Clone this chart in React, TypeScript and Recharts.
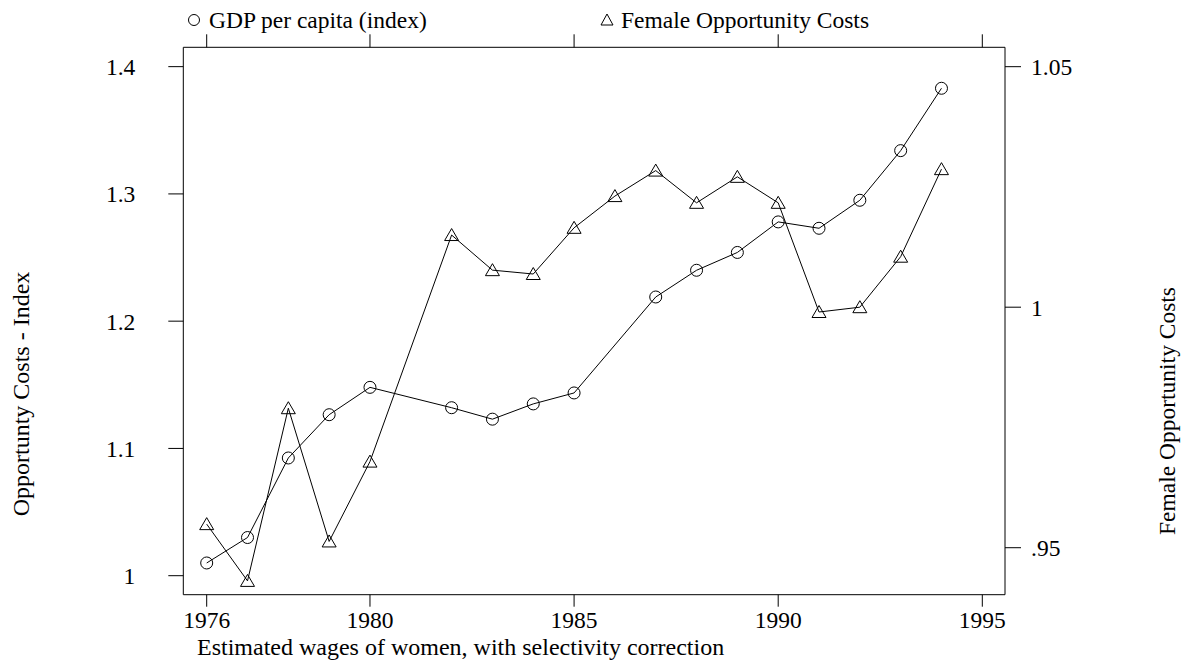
import { LineChart, Line, XAxis, YAxis } from "recharts";

const years = [1976, 1977, 1978, 1979, 1980, 1982, 1983, 1984, 1985, 1986, 1987, 1988, 1989, 1990, 1991, 1992, 1993, 1994];
// GDP per capita (index), left axis; no point for 1986
const gdpIndex = [1.01, 1.03, 1.0925, 1.1265, 1.148, 1.132, 1.123, 1.135, 1.1436, null, 1.219, 1.24, 1.254, 1.278, 1.273, 1.295, 1.334, 1.383];
// Female opportunity costs, right axis
const femaleCosts = [0.9549, 0.9431, 0.979, 0.9513, 0.9679, 1.015, 1.0077, 1.0069, 1.0165, 1.0231, 1.0284, 1.0217, 1.0271, 1.0217, 0.999, 1.0, 1.0105, 1.0287];

const yearTicks = [1976, 1980, 1985, 1990, 1995];
const leftTicks = [1, 1.1, 1.2, 1.3, 1.4];
const rightTicks = [0.95, 1, 1.05];

const data = years.map((year, i) => ({ year, gdp: gdpIndex[i], foc: femaleCosts[i] }));

const FONT = '"Liberation Serif", "Times New Roman", serif';
const tickStyle = { fill: "#000", fontSize: 23.5, fontFamily: FONT };

function CircleDot(p: any) {
  if (p.value == null || p.cx == null) return <g key={p.index} />;
  return <circle key={p.index} cx={p.cx} cy={p.cy} r={6} fill="none" stroke="#000" strokeWidth={1} />;
}

function TriangleDot(p: any) {
  if (p.value == null || p.cx == null) return <g key={p.index} />;
  const { cx, cy } = p;
  return (
    <path
      key={p.index}
      d={`M${cx},${cy - 6.5}L${cx - 7},${cy + 5.5}L${cx + 7},${cy + 5.5}Z`}
      fill="none"
      stroke="#000"
      strokeWidth={1}
    />
  );
}

export default function App() {
  return (
    <div style={{ position: "absolute", left: 0, top: 0, width: 1191, height: 660, background: "#fff", fontFamily: FONT, color: "#000" }}>
      {/* legend */}
      <div style={{ position: "absolute", left: 186, top: 7, height: 26, display: "flex", alignItems: "center", fontSize: 23.5 }}>
        <svg width={16} height={16} style={{ marginRight: 7 }}>
          <circle cx={8} cy={8} r={5.5} fill="none" stroke="#000" />
        </svg>
        GDP per capita (index)
      </div>
      <div style={{ position: "absolute", left: 599, top: 7, height: 26, display: "flex", alignItems: "center", fontSize: 23.5 }}>
        <svg width={16} height={16} style={{ marginRight: 6 }}>
          <path d="M8,2L2,13L14,13Z" fill="none" stroke="#000" />
        </svg>
        Female Opportunity Costs
      </div>

      <LineChart width={1191} height={660} data={data} margin={{ top: 27.3, right: 116, bottom: 35.3, left: 113.3 }}>
        <XAxis
          xAxisId="b"
          dataKey="year"
          type="number"
          domain={[1975.427, 1995.556]}
          ticks={yearTicks}
          allowDataOverflow
          height={30}
          tickSize={12}
          tickMargin={5}
          tick={tickStyle}
          stroke="#000"
        />
        <XAxis
          xAxisId="t"
          orientation="top"
          dataKey="year"
          type="number"
          domain={[1975.427, 1995.556]}
          ticks={yearTicks}
          allowDataOverflow
          height={20}
          tickSize={13}
          tickFormatter={() => ""}
          stroke="#000"
        />
        <YAxis
          yAxisId="l"
          orientation="left"
          type="number"
          domain={[0.98507, 1.4152]}
          ticks={leftTicks}
          allowDataOverflow
          width={70}
          tickSize={15}
          tickMargin={33}
          tick={tickStyle}
          tickFormatter={(v: number) => (v === 1 ? "1" : v.toFixed(1))}
          stroke="#000"
        />
        <YAxis
          yAxisId="r"
          orientation="right"
          type="number"
          domain={[0.94023, 1.05403]}
          ticks={rightTicks}
          allowDataOverflow
          width={70}
          tickSize={16}
          tickMargin={10}
          tick={tickStyle}
          tickFormatter={(v: number) => String(v).replace(/^0/, "")}
          stroke="#000"
        />
        <Line
          xAxisId="b"
          yAxisId="l"
          dataKey="gdp"
          stroke="#000"
          strokeWidth={1}
          connectNulls
          dot={CircleDot}
          activeDot={false}
          isAnimationActive={false}
        />
        <Line
          xAxisId="b"
          yAxisId="r"
          dataKey="foc"
          stroke="#000"
          strokeWidth={1}
          dot={TriangleDot}
          activeDot={false}
          isAnimationActive={false}
        />
      </LineChart>

      {/* axis titles */}
      <div style={{ position: "absolute", left: 21 - 200, top: 394 - 13, width: 400, height: 26, lineHeight: "26px", textAlign: "center", fontSize: 24, transform: "rotate(-90deg)" }}>
        Opportunty Costs - Index
      </div>
      <div style={{ position: "absolute", left: 1167 - 200, top: 411 - 13, width: 400, height: 26, lineHeight: "26px", textAlign: "center", fontSize: 23.5, transform: "rotate(-90deg)" }}>
        Female Opportunity Costs
      </div>
      <div style={{ position: "absolute", left: 197, top: 634, height: 26, lineHeight: "26px", fontSize: 24, whiteSpace: "nowrap" }}>
        Estimated wages of women, with selectivity correction
      </div>
    </div>
  );
}
